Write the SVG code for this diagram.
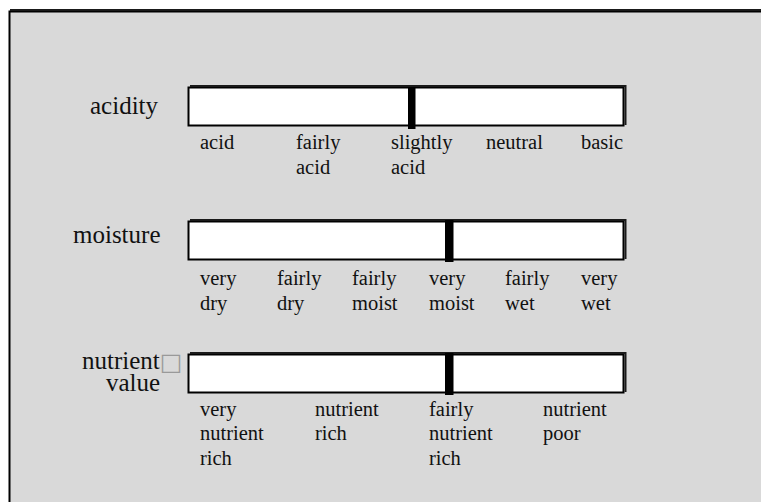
<svg xmlns="http://www.w3.org/2000/svg" width="761" height="502" viewBox="0 0 761 502">
<style>
.lbl{font-family:"Liberation Serif","Times New Roman",serif;font-size:25px;fill:#111}
.tick{font-family:"Liberation Serif","Times New Roman",serif;font-size:20.5px;fill:#111}
.bar{fill:#fff;stroke:#000;stroke-width:2}
.shadow{fill:none;stroke:#1a1a1a;stroke-width:2}
.mark{fill:#000}
</style>
<rect x="0" y="0" width="761" height="502" fill="#fff"/>
<g id="frame">
<rect x="9.5" y="11.5" width="760" height="500" fill="#d9d9d9" stroke="#000" stroke-width="2"/>
<path d="M10,10 H761" stroke="#1a1a1a" stroke-width="2" fill="none"/>
</g>
<g id="acidity">
<text class="lbl" x="90" y="114">acidity</text>
<rect class="bar" x="188.5" y="87.5" width="435" height="38"/>
<path class="shadow" d="M190,86 H625.5 V125"/>
<rect class="mark" x="408" y="87" width="7.5" height="42"/>
<text class="tick" x="200" y="149">acid</text>
<text class="tick" x="296" y="149">fairly</text>
<text class="tick" x="296" y="174">acid</text>
<text class="tick" x="391" y="149">slightly</text>
<text class="tick" x="391" y="174">acid</text>
<text class="tick" x="486" y="149">neutral</text>
<text class="tick" x="581" y="149">basic</text>
</g>
<g id="moisture">
<text class="lbl" x="73" y="243">moisture</text>
<rect class="bar" x="188.5" y="221.5" width="435" height="38"/>
<path class="shadow" d="M190,220 H625.5 V259"/>
<rect class="mark" x="445" y="220" width="8.5" height="42"/>
<text class="tick" x="200" y="285">very</text>
<text class="tick" x="200" y="310">dry</text>
<text class="tick" x="277" y="285">fairly</text>
<text class="tick" x="277" y="310">dry</text>
<text class="tick" x="352" y="285">fairly</text>
<text class="tick" x="352" y="310">moist</text>
<text class="tick" x="429" y="285">very</text>
<text class="tick" x="429" y="310">moist</text>
<text class="tick" x="505" y="285">fairly</text>
<text class="tick" x="505" y="310">wet</text>
<text class="tick" x="581" y="285">very</text>
<text class="tick" x="581" y="310">wet</text>
</g>
<g id="nutrient">
<text class="lbl" x="82" y="369">nutrient<tspan fill="#999" font-family="DejaVu Sans, sans-serif" font-size="24" dy="1">□</tspan></text>
<text class="lbl" x="106" y="391">value</text>
<rect class="bar" x="188.5" y="354.5" width="435" height="38"/>
<path class="shadow" d="M190,353 H625.5 V392"/>
<rect class="mark" x="445" y="353" width="8.5" height="42"/>
<text class="tick" x="200" y="416">very</text>
<text class="tick" x="200" y="440">nutrient</text>
<text class="tick" x="200" y="465">rich</text>
<text class="tick" x="315" y="416">nutrient</text>
<text class="tick" x="315" y="440">rich</text>
<text class="tick" x="429" y="416">fairly</text>
<text class="tick" x="429" y="440">nutrient</text>
<text class="tick" x="429" y="465">rich</text>
<text class="tick" x="543" y="416">nutrient</text>
<text class="tick" x="543" y="440">poor</text>
</g>
</svg>
